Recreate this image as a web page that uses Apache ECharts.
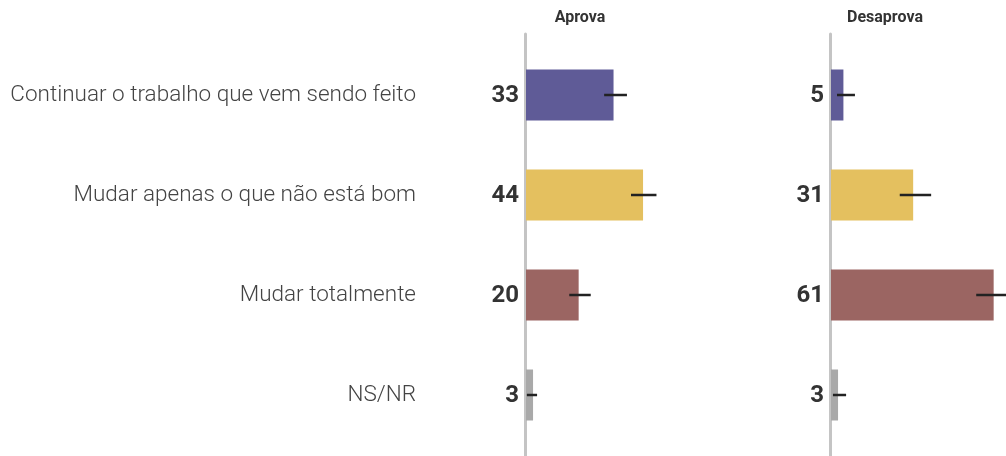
<!DOCTYPE html>
<html>
<head>
<meta charset="utf-8">
<style>
  html, body { margin: 0; padding: 0; background: #fff; }
  #app { width: 1006px; height: 456px; }
</style>
<script src="https://cdn.jsdelivr.net/npm/echarts@6/dist/echarts.min.js"></script>
</head>
<body>
<div id="app"></div>
<script>
var categories = ['Continuar o trabalho que vem sendo feito', 'Mudar apenas o que não está bom', 'Mudar totalmente', 'NS/NR'];
var panels = ['Aprova', 'Desaprova'];
var aprova = [33, 44, 20, 3];
var aprovaLow = [29.5, 39.5, 16.5, 0.7];
var aprovaHigh = [38, 49, 24.5, 4.5];
var desaprova = [5, 31, 61, 3];
var desaprovaLow = [2.6, 26, 54.5, 1.1];
var desaprovaHigh = [9.3, 37.7, 67.5, 6];
var colors = ['#5f5b97', '#e4c05f', '#9b6562', '#a9a9a9'];

var FONT = 'Roboto, "Noto Sans", sans-serif';

function buildData(values, low, high) {
    return values.map(function (v, i) {
        return [v, i, low[i], high[i]];
    });
}

function renderBar(params, api) {
    var i = api.value(1);
    var base = api.coord([0, i]);
    var end = api.coord([api.value(0), i]);
    var lo = api.coord([api.value(2), i]);
    var hi = api.coord([api.value(3), i]);
    var h = api.size([0, 1])[1] * 0.51;
    return {
        type: 'group',
        children: [
            {
                type: 'rect',
                shape: { x: base[0] + 1, y: base[1] - h / 2, width: end[0] - base[0] - 1, height: h },
                style: { fill: colors[i] }
            },
            {
                type: 'line',
                shape: { x1: lo[0], y1: lo[1], x2: hi[0], y2: hi[1] },
                style: { stroke: '#222', lineWidth: 2.5 }
            },
            {
                type: 'text',
                x: base[0] - 6,
                y: base[1] + 1,
                style: {
                    text: String(api.value(0)),
                    align: 'right',
                    verticalAlign: 'middle',
                    font: 'bold 24px ' + FONT,
                    fill: '#333'
                }
            }
        ]
    };
}

function renderCategory(params, api) {
    var i = api.value(1);
    var p = api.coord([0, i]);
    return {
        type: 'text',
        x: p[0] - 109,
        y: p[1],
        style: {
            text: categories[i],
            align: 'right',
            verticalAlign: 'middle',
            font: '300 22.5px ' + FONT,
            fill: '#444'
        }
    };
}

var chart = echarts.init(document.getElementById('app'), null, { renderer: 'canvas' });

// same pixel scale in both panels, the second one runs to the right edge
var grids = [
    { left: 525, top: 34, width: 176, height: 422 },
    { left: 830, top: 34, width: 176, height: 422 }
];

var xAxes = grids.map(function (g, k) {
    return {
        type: 'value', gridIndex: k, min: 0, max: 65.6,
        show: false
    };
});

var yAxes = grids.map(function (g, k) {
    return {
        type: 'value', gridIndex: k, inverse: true, min: -0.61, max: 3.61,
        axisLine: { show: true, lineStyle: { color: '#c4c4c4', width: 3 } },
        axisTick: { show: false },
        axisLabel: { show: false },
        splitLine: { show: false }
    };
});

var titleStyle = { fontFamily: FONT, fontWeight: 'bold', fontSize: 16, color: '#333' };

var option = {
    animation: false,
    title: [
        { text: panels[0], left: 575, top: 5, textAlign: 'center', textStyle: titleStyle },
        { text: panels[1], left: 880, top: 5, textAlign: 'center', textStyle: titleStyle }
    ],
    grid: grids,
    xAxis: xAxes,
    yAxis: yAxes,
    series: [
        {
            type: 'custom', xAxisIndex: 0, yAxisIndex: 0, clip: false,
            renderItem: renderCategory,
            data: buildData(aprova, aprovaLow, aprovaHigh),
            encode: { x: 0, y: 1 }
        },
        {
            type: 'custom', xAxisIndex: 0, yAxisIndex: 0, clip: false,
            renderItem: renderBar,
            data: buildData(aprova, aprovaLow, aprovaHigh),
            encode: { x: 0, y: 1 }
        },
        {
            type: 'custom', xAxisIndex: 1, yAxisIndex: 1, clip: false,
            renderItem: renderBar,
            data: buildData(desaprova, desaprovaLow, desaprovaHigh),
            encode: { x: 0, y: 1 }
        }
    ]
};

chart.setOption(option);
</script>
</body>
</html>
